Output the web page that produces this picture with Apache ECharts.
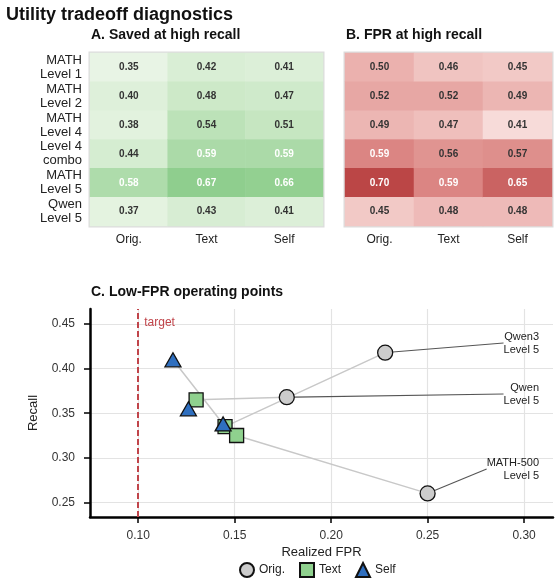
<!DOCTYPE html>
<html>
<head>
<meta charset="utf-8">
<script src="https://cdn.jsdelivr.net/npm/echarts@6/dist/echarts.min.js"></script>
<style>
    html, body { margin: 0; padding: 0; background: #fff; }
    #chart { width: 560px; height: 587px; }
</style>
</head>
<body>
<div id="chart"></div>
<script>
// filas y columnas de los mapas de calor
var rowLabels = ['MATH\nLevel 1', 'MATH\nLevel 2', 'MATH\nLevel 4', 'Level 4\ncombo', 'MATH\nLevel 5', 'Qwen\nLevel 5'];
var colLabels = ['Orig.', 'Text', 'Self'];

// A. Saved at high recall
var savedOrig = [0.35, 0.40, 0.38, 0.44, 0.58, 0.37];
var savedText = [0.42, 0.48, 0.54, 0.59, 0.67, 0.43];
var savedSelf = [0.41, 0.47, 0.51, 0.59, 0.66, 0.41];

// B. FPR at high recall
var fprOrig = [0.50, 0.52, 0.49, 0.59, 0.70, 0.45];
var fprText = [0.46, 0.52, 0.47, 0.56, 0.59, 0.48];
var fprSelf = [0.45, 0.49, 0.41, 0.57, 0.65, 0.48];

// C. Low-FPR operating points
var opNames = ['Qwen3\nLevel 5', 'Qwen\nLevel 5', 'MATH-500\nLevel 5'];
var origFpr = [0.228, 0.177, 0.250];
var origRecall = [0.418, 0.368, 0.260];
var textFpr = [0.145, 0.130, 0.151];
var textRecall = [0.335, 0.365, 0.325];
var selfFpr = [0.118, 0.126, 0.144];
var selfRecall = [0.410, 0.355, 0.338];
var targetFpr = 0.10;

var xTicks = [0.10, 0.15, 0.20, 0.25, 0.30];
var yTicks = [0.25, 0.30, 0.35, 0.40, 0.45];

var FONT = '"Liberation Sans", Arial, sans-serif';

function buildCells(cols) {
    var out = [];
    cols.forEach(function (col, c) {
        col.forEach(function (v, r) {
            out.push([c, r, v]);
        });
    });
    return out;
}

function pairs(xs, ys) {
    return xs.map(function (x, i) { return [x, ys[i]]; });
}

function cellLabel(params) {
    var v = params.value[2];
    var txt = v.toFixed(2);
    return v >= 0.58 ? '{w|' + txt + '}' : '{d|' + txt + '}';
}

function heatAxes(gridIndex) {
    return {
        x: {
            type: 'category', gridIndex: gridIndex, data: colLabels,
            axisLine: { show: false }, axisTick: { show: false }, splitLine: { show: false },
            axisLabel: { color: '#222', fontSize: 12, fontFamily: FONT, margin: 8 }
        },
        y: {
            type: 'category', gridIndex: gridIndex, data: rowLabels, inverse: true,
            axisLine: { show: false }, axisTick: { show: false }, splitLine: { show: false },
            axisLabel: { show: gridIndex === 0, color: '#222', fontSize: 13, lineHeight: 14, fontFamily: FONT, margin: 8, align: 'right' }
        }
    };
}

var axA = heatAxes(0);
var axB = heatAxes(1);

var heatLabel = {
    show: true,
    formatter: cellLabel,
    rich: {
        d: { color: '#333', fontSize: 10, fontWeight: 'bold', fontFamily: FONT },
        w: { color: '#fff', fontSize: 10, fontWeight: 'bold', fontFamily: FONT }
    }
};

// posicion (px) de las etiquetas de anotacion a la derecha
var labelSpotY = [343, 394, 469];

var chart = echarts.init(document.getElementById('chart'));

var subTitle = { fontSize: 14, fontWeight: 'bold', color: '#111', fontFamily: FONT };

var option = {
    backgroundColor: '#fff',
    animation: false,
    title: [
        { text: 'Utility tradeoff diagnostics', left: 6, top: 6, padding: 0, textStyle: { fontSize: 18, fontWeight: 'bold', color: '#111', fontFamily: FONT } },
        { text: 'A. Saved at high recall', left: 91, top: 28, padding: 0, textStyle: subTitle },
        { text: 'B. FPR at high recall', left: 346, top: 28, padding: 0, textStyle: subTitle },
        { text: 'C. Low-FPR operating points', left: 91, top: 285, padding: 0, textStyle: subTitle }
    ],
    grid: [
        { left: 90, top: 53, width: 233, height: 173, show: true, borderColor: '#dcdcdc', borderWidth: 3, backgroundColor: 'transparent' },
        { left: 345, top: 53, width: 207, height: 173, show: true, borderColor: '#dcdcdc', borderWidth: 3, backgroundColor: 'transparent' },
        { left: 90, top: 309, right: 7, bottom: 70 }
    ],
    visualMap: [
        { show: false, seriesIndex: 0, dimension: 2, min: 0.33, max: 0.68, inRange: { color: ['#ecf6e9', '#c8e7c3', '#8ccd8b'] } },
        { show: false, seriesIndex: 1, dimension: 2, min: 0.40, max: 0.70, inRange: { color: ['#f8e0de', '#ebb1ae', '#d9807e', '#bb4646'] } }
    ],
    legend: {
        top: 562, left: 239, padding: 0,
        itemWidth: 14, itemHeight: 14, itemGap: 14,
        textStyle: { fontSize: 12, color: '#222', fontFamily: FONT },
        data: ['Orig.', 'Text', 'Self']
    },
    xAxis: [
        axA.x, axB.x,
        {
            type: 'value', gridIndex: 2, min: 0.075, max: 0.315,
            name: 'Realized FPR', nameLocation: 'middle', nameGap: 29,
            nameTextStyle: { fontSize: 13, color: '#222', fontFamily: FONT },
            axisLine: { show: true, lineStyle: { color: '#000', width: 2.5 } },
            axisTick: { show: true, length: 6, lineStyle: { color: '#000', width: 1.5 }, customValues: xTicks },
            axisLabel: { color: '#333', fontSize: 12, fontFamily: FONT, margin: 13, customValues: xTicks, formatter: function (v) { return v.toFixed(2); } },
            splitLine: { show: true, lineStyle: { color: '#e3e3e3', width: 1.2 } }
        }
    ],
    yAxis: [
        axA.y, axB.y,
        {
            type: 'value', gridIndex: 2, min: 0.2335, max: 0.467,
            name: 'Recall', nameLocation: 'middle', nameGap: 50,
            nameTextStyle: { fontSize: 13, color: '#222', fontFamily: FONT },
            axisLine: { show: true, lineStyle: { color: '#000', width: 2.5 } },
            axisTick: { show: true, length: 6, lineStyle: { color: '#000', width: 1.5 }, customValues: yTicks },
            axisLabel: { color: '#333', fontSize: 12, fontFamily: FONT, margin: 15, customValues: yTicks, formatter: function (v) { return v.toFixed(2); } },
            splitLine: { show: true, lineStyle: { color: '#e3e3e3', width: 1.2 } }
        }
    ],
    series: [
        {
            type: 'heatmap', xAxisIndex: 0, yAxisIndex: 0,
            data: buildCells([savedOrig, savedText, savedSelf]),
            label: heatLabel, itemStyle: { borderWidth: 0 }
        },
        {
            type: 'heatmap', xAxisIndex: 1, yAxisIndex: 1,
            data: buildCells([fprOrig, fprText, fprSelf]),
            label: heatLabel, itemStyle: { borderWidth: 0 }
        }
    ]
};

// lineas grises que unen Orig -> Text -> Self de cada conjunto
opNames.forEach(function (name, i) {
    option.series.push({
        type: 'line', xAxisIndex: 2, yAxisIndex: 2, silent: true, symbol: 'none', z: 1,
        lineStyle: { color: '#c8c8c8', width: 1.5 },
        data: [[origFpr[i], origRecall[i]], [textFpr[i], textRecall[i]], [selfFpr[i], selfRecall[i]]]
    });
});

option.series.push({
    name: 'Orig.', type: 'scatter', xAxisIndex: 2, yAxisIndex: 2, z: 3,
    symbol: 'circle', symbolSize: 15,
    itemStyle: { color: '#cccccc', borderColor: '#111', borderWidth: 1.3, opacity: 1 },
    data: pairs(origFpr, origRecall),
    label: {
        show: true, color: '#222', fontSize: 11, lineHeight: 13, fontFamily: FONT, align: 'right',
        formatter: function (p) { return opNames[p.dataIndex]; }
    },
    labelLayout: function (p) {
        return { x: 539, y: labelSpotY[p.dataIndex], align: 'right', verticalAlign: 'middle' };
    },
    labelLine: { show: true, lineStyle: { color: '#555', width: 1.1 } },
    markLine: {
        silent: true, symbol: 'none', animation: false,
        label: { show: false },
        lineStyle: { color: '#c0444a', width: 2, type: [6, 3] },
        data: [{ xAxis: targetFpr }]
    }
});

option.series.push({
    name: 'Text', type: 'scatter', xAxisIndex: 2, yAxisIndex: 2, z: 4,
    symbol: 'rect', symbolSize: 14,
    itemStyle: { color: '#8fd18e', borderColor: '#111', borderWidth: 1.3, opacity: 1 },
    data: pairs(textFpr, textRecall)
});

option.series.push({
    name: 'Self', type: 'scatter', xAxisIndex: 2, yAxisIndex: 2, z: 5,
    symbol: 'triangle', symbolSize: [16, 14],
    itemStyle: { color: '#2f6fbf', borderColor: '#111', borderWidth: 1.3, opacity: 1 },
    data: pairs(selfFpr, selfRecall)
});

chart.setOption(option);

// etiqueta "target" junto a la linea discontinua
var tgt = chart.convertToPixel({ gridIndex: 2 }, [targetFpr, yTicks[yTicks.length - 1]]);
chart.setOption({
    graphic: [{
        type: 'text', x: tgt[0] + 6, y: tgt[1] - 7,
        style: { text: 'target', fill: '#c0444a', fontSize: 12, fontFamily: FONT }
    }]
});
</script>
</body>
</html>
